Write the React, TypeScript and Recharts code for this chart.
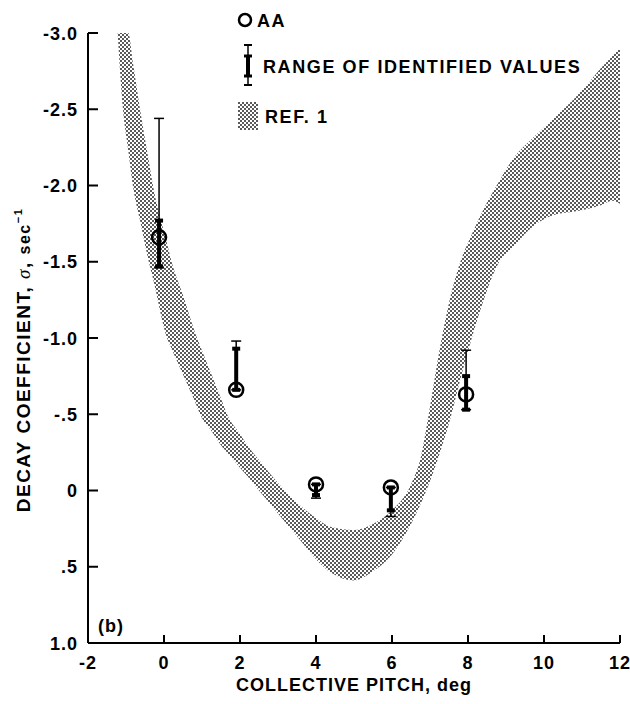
import { Area, ComposedChart, ErrorBar, Scatter, XAxis, YAxis } from 'recharts'

// REF. 1 band: upper edge (more negative sigma) and lower edge
const pitch = [
   -1.22, -1.08, -0.94, -0.82, -0.63, -0.4, -0.29, 0.08, 0.2, 0.5, 0.87, 0.95, 1.25, 1.55, 1.66, 2.0, 2.21,
   2.5, 3.0, 3.5, 4.0, 4.4, 5.0, 5.5, 6.0, 6.5, 6.75, 7.0, 7.25, 7.5, 7.8, 8.1, 8.4, 8.8, 9.2, 9.7, 10.3,
   10.8, 11.2, 11.5, 11.8, 12
]
const refTop = [
   -3.0, -3.0, -3.0, -2.81, -2.5, -2.16, -2.0, -1.62, -1.5, -1.28, -1.0, -0.95, -0.76, -0.57, -0.5, -0.37,
   -0.29, -0.2, -0.05, 0.08, 0.18, 0.24, 0.26, 0.22, 0.13, -0.04, -0.21, -0.55, -0.92, -1.23, -1.5, -1.68,
   -1.84, -2.02, -2.18, -2.31, -2.45, -2.57, -2.68, -2.77, -2.85, -2.9
]
const refBottom = [
   -3.0, -2.5, -2.23, -2.0, -1.77, -1.5, -1.39, -1.0, -0.93, -0.76, -0.55, -0.5, -0.39, -0.28, -0.25, -0.15,
   -0.09, 0.0, 0.15, 0.3, 0.45, 0.54, 0.59, 0.53, 0.42, 0.22, 0.09, -0.06, -0.24, -0.44, -0.73, -1.0, -1.24,
   -1.49, -1.6, -1.73, -1.81, -1.83, -1.85, -1.87, -1.9, -1.88
]

// AA points and range of identified values
const aaPitch = [-0.13, 1.9, 4.0, 5.97, 7.95]
const aaSigma = [-1.66, -0.66, -0.04, -0.02, -0.63]
const rangeMin = [-2.44, -0.98, -0.04, -0.02, -0.92]
const rangeMax = [-1.46, -0.66, 0.05, 0.17, -0.53]
const identMin = [-1.77, -0.93, -0.04, -0.02, -0.75]
const identMax = [-1.47, -0.66, 0.03, 0.13, -0.53]

const xTicks = [-2, 0, 2, 4, 6, 8, 10, 12]
const yTicks = [-3, -2.5, -2, -1.5, -1, -0.5, 0, 0.5, 1]
const yTickLabels = ['-3.0', '-2.5', '-2.0', '-1.5', '-1.0', '-.5', '0', '.5', '1.0']

const bandData = pitch.map((x, i) => ({ x, band: [refTop[i], refBottom[i]] }))
const aaData = aaPitch.map((x, i) => ({
   x,
   y: aaSigma[i],
   range: [aaSigma[i] - rangeMin[i], rangeMax[i] - aaSigma[i]],
   ident: [aaSigma[i] - identMin[i], identMax[i] - aaSigma[i]]
}))

const font = '"Liberation Sans", Arial, sans-serif'
const txt = { fontFamily: font, fontWeight: 'bold' as const, fontSize: 18, fill: '#000', letterSpacing: 1 }
const legendTxt = { ...txt, letterSpacing: 1.6 }

function XTick({ x, y, payload }: any) {
   return (
      <g>
         <line x1={x} x2={x} y1={y} y2={y - 8} stroke="#000" strokeWidth={2} />
         <text x={x} y={y + 26} textAnchor="middle" {...txt}>
            {payload.value}
         </text>
      </g>
   )
}

function YTick({ x, y, payload }: any) {
   const i = yTicks.indexOf(payload.value)
   return (
      <g>
         <line x1={x} x2={x + 10} y1={y} y2={y} stroke="#000" strokeWidth={2} />
         <text x={x - 10} y={y + 6.5} textAnchor="end" {...txt}>
            {yTickLabels[i]}
         </text>
      </g>
   )
}

function YTitle({ viewBox }: any) {
   const cx = 30
   const cy = viewBox.y + viewBox.height / 2 + 22
   return (
      <text
         x={cx}
         y={cy}
         transform={`rotate(-90 ${cx} ${cy})`}
         textAnchor="middle"
         {...txt}
         fontSize={19}
         letterSpacing={1.5}
      >
         <tspan>DECAY COEFFICIENT, </tspan>
         <tspan fontFamily="'Liberation Serif', serif" fontStyle="italic" fontWeight="normal">σ</tspan>
         <tspan>, </tspan>
         <tspan fontSize={16}>sec</tspan>
         <tspan fontSize={11} dy={-8}>−1</tspan>
      </text>
   )
}

function XTitle({ viewBox }: any) {
   return (
      <text x={viewBox.x + viewBox.width / 2} y={viewBox.y + 47.5} textAnchor="middle" {...txt}>
         COLLECTIVE PITCH, deg
      </text>
   )
}

function Stipple({ id }: { id: string }) {
   return (
      <pattern id={id} patternUnits="userSpaceOnUse" width={4} height={4}>
         <rect x={0} y={0} width={2} height={2} fill="#5a5a5a" />
         <rect x={2} y={2} width={2} height={2} fill="#5a5a5a" />
      </pattern>
   )
}

export default function App() {
   return (
      <div style={{ position: 'absolute', left: 0, top: 0, width: 630, height: 704, background: '#fff' }}>
         <ComposedChart width={630} height={704} data={bandData} margin={{ top: 33, right: 10, bottom: 0, left: 0 }}>
            <defs>
               <Stipple id="stipple" />
            </defs>
            <XAxis
               type="number"
               dataKey="x"
               domain={[-2, 12]}
               ticks={xTicks}
               interval={0}
               allowDataOverflow
               height={61}
               tickSize={0}
               tickMargin={0}
               tickLine={false}
               axisLine={{ stroke: '#000', strokeWidth: 2 }}
               tick={<XTick />}
               label={{ content: <XTitle /> }}
            />
            <YAxis
               type="number"
               dataKey="y"
               domain={[-3, 1]}
               reversed
               ticks={yTicks}
               interval={0}
               allowDataOverflow
               width={88}
               tickSize={0}
               tickMargin={0}
               tickLine={false}
               axisLine={{ stroke: '#000', strokeWidth: 2 }}
               tick={<YTick />}
               label={{ content: <YTitle /> }}
            />
            <Area
               type="monotone"
               dataKey="band"
               stroke="none"
               fill="url(#stipple)"
               fillOpacity={1}
               isAnimationActive={false}
               activeDot={false}
            />
            <Scatter
               data={aaData}
               isAnimationActive={false}
               shape={(p: any) => <circle cx={p.cx} cy={p.cy} r={7} fill="none" stroke="#000" strokeWidth={2.5} />}
            >
               <ErrorBar dataKey="range" direction="y" width={5} strokeWidth={1.5} stroke="#000" isAnimationActive={false} />
               <ErrorBar dataKey="ident" direction="y" width={4} strokeWidth={4} stroke="#000" isAnimationActive={false} />
            </Scatter>
         </ComposedChart>

         <svg width={630} height={704} style={{ position: 'absolute', left: 0, top: 0, pointerEvents: 'none' }}>
            <defs>
               <Stipple id="stipple-legend" />
            </defs>
            <circle cx={245} cy={20} r={6} fill="none" stroke="#000" strokeWidth={2.5} />
            <text x={257} y={26.5} {...legendTxt}>AA</text>

            <line x1={248} x2={248} y1={45} y2={85} stroke="#000" strokeWidth={1.5} />
            <line x1={244} x2={252} y1={45} y2={45} stroke="#000" strokeWidth={2} />
            <line x1={244} x2={252} y1={85} y2={85} stroke="#000" strokeWidth={2} />
            <line x1={248} x2={248} y1={56} y2={76} stroke="#000" strokeWidth={4} />
            <line x1={244} x2={252} y1={56} y2={56} stroke="#000" strokeWidth={3} />
            <line x1={244} x2={252} y1={76} y2={76} stroke="#000" strokeWidth={3} />
            <text x={263} y={72.5} {...legendTxt}>RANGE OF IDENTIFIED VALUES</text>

            <rect x={238} y={102} width={20} height={28} fill="url(#stipple-legend)" />
            <text x={265} y={122.5} {...legendTxt}>REF. 1</text>

            <text x={98} y={631.5} {...txt}>(b)</text>
         </svg>
      </div>
   )
}
